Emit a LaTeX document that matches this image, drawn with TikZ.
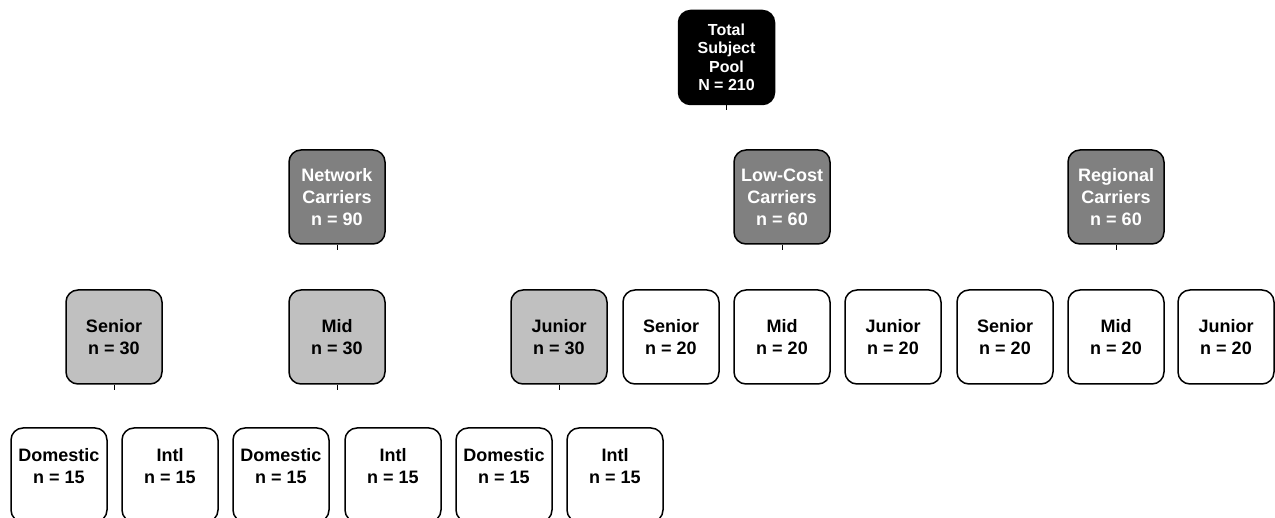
\documentclass[tikz,border=0pt]{standalone}
\usepackage{fontspec}
\setmainfont{Liberation Sans}
\usepackage{xcolor}
\usepackage{tikz}

\definecolor{carriergray}{RGB}{128,128,128}
\definecolor{ranklight}{RGB}{192,192,192}

\begin{document}
\begin{tikzpicture}[x=1pt, y=-1pt,
        box/.style={draw=black, line width=1.5pt, rounded corners=12pt,
            minimum width=96pt, minimum height=94pt, inner sep=1pt,
            align=center, font=\bfseries\fontsize{18}{22}\selectfont},
        rootbox/.style={box, fill=black, text=white,
            font=\bfseries\fontsize{16}{18.5}\selectfont},
        carrierbox/.style={box, fill=carriergray, text=white},
        rankbox/.style={box, fill=ranklight},
        plainbox/.style={box, fill=white},
        leafbox/.style={box, fill=white, text depth=18pt},
        stub/.style={line width=0.8pt}]
        \useasboundingbox (0, 0) rectangle (1275, 518);
        \clip (0, 0) rectangle (1275, 518);

        % top
        \node[rootbox] (pool) at (726.5, 57.5) {Total\\Subject\\Pool\\N = 210};

        % carriers
        \node[carrierbox] (network) at (337, 197) {Network\\Carriers\\n = 90};
        \node[carrierbox] (lowcost) at (782, 197) {Low-Cost\\Carriers\\n = 60};
        \node[carrierbox] (regional) at (1116, 197) {Regional\\Carriers\\n = 60};

        % seniority
        \node[rankbox] (netsenior) at (114, 337) {Senior\\n = 30};
        \node[rankbox] (netmid) at (337, 337) {Mid\\n = 30};
        \node[rankbox] (netjunior) at (559, 337) {Junior\\n = 30};
        \node[plainbox] (lcsenior) at (671, 337) {Senior\\n = 20};
        \node[plainbox] (lcmid) at (782, 337) {Mid\\n = 20};
        \node[plainbox] (lcjunior) at (893, 337) {Junior\\n = 20};
        \node[plainbox] (regsenior) at (1005, 337) {Senior\\n = 20};
        \node[plainbox] (regmid) at (1116, 337) {Mid\\n = 20};
        \node[plainbox] (regjunior) at (1226, 337) {Junior\\n = 20};

        % routes
        \node[leafbox] (seniordom) at (59, 475) {Domestic\\n = 15};
        \node[leafbox] (seniorintl) at (170, 475) {Intl\\n = 15};
        \node[leafbox] (middom) at (281, 475) {Domestic\\n = 15};
        \node[leafbox] (midintl) at (393, 475) {Intl\\n = 15};
        \node[leafbox] (juniordom) at (504, 475) {Domestic\\n = 15};
        \node[leafbox] (juniorintl) at (615, 475) {Intl\\n = 15};

        % stubs
        \foreach \n in {pool, network, lowcost, regional, netsenior, netmid, netjunior} {
            \coordinate (\n-end) at ([yshift=-5pt]\n.south);
            \draw[stub] (\n.south) -- (\n-end);
        }
\end{tikzpicture}
\end{document}
